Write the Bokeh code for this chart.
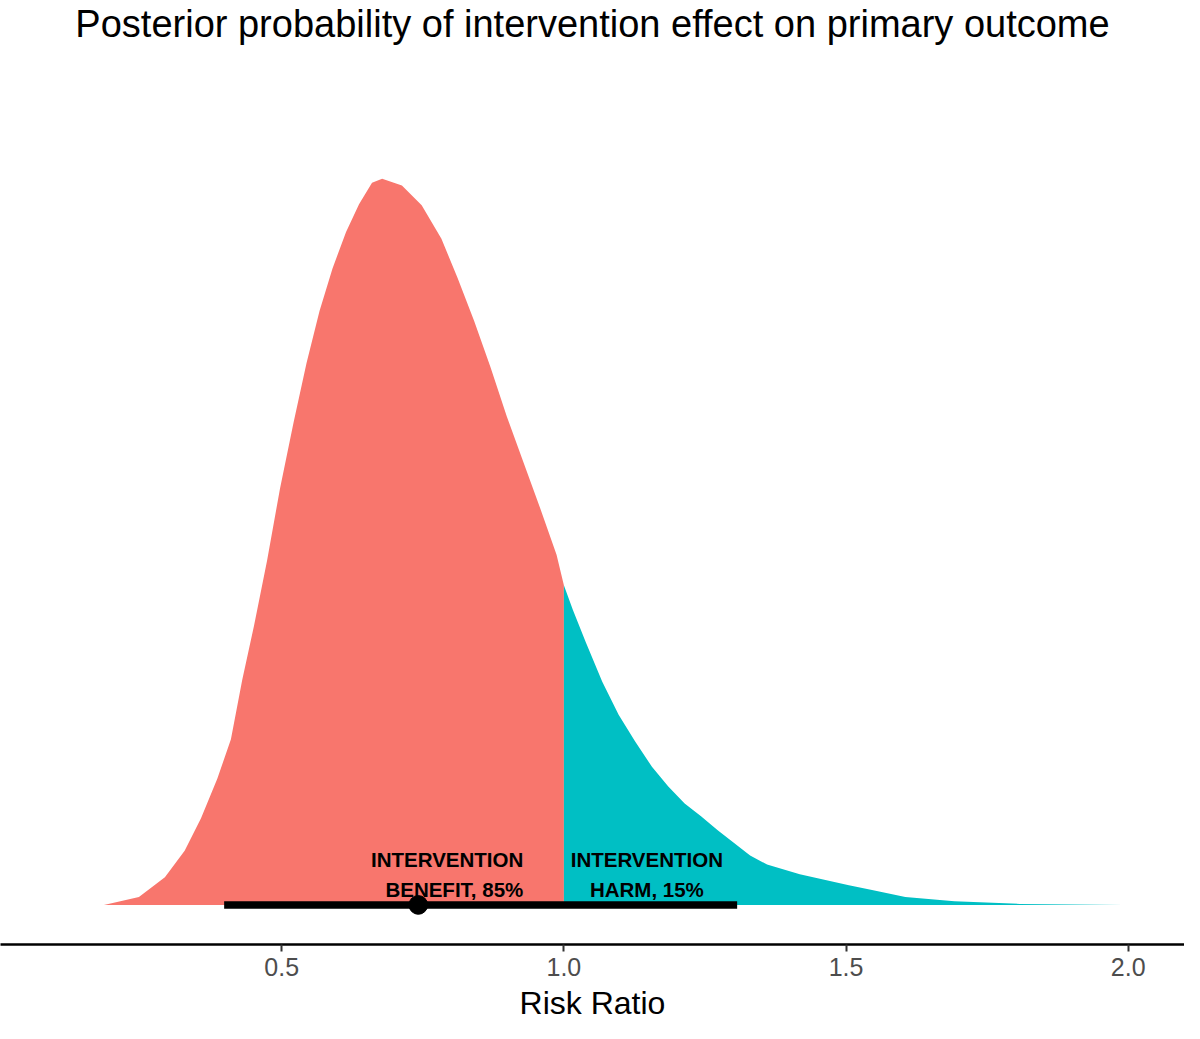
from bokeh.plotting import figure
from bokeh.models import Range1d, FixedTicker, NumeralTickFormatter
from bokeh.embed import file_html
from bokeh.resources import INLINE
from bokeh.core.properties import value

# posterior density of the risk ratio, split at RR = 1
benefit_rr = [0.185, 0.247, 0.293, 0.328, 0.357, 0.386, 0.410, 0.430, 0.451,
              0.474, 0.497, 0.521, 0.544, 0.567, 0.590, 0.614, 0.637, 0.660,
              0.678, 0.713, 0.748, 0.783, 0.812, 0.841, 0.870, 0.899, 0.928,
              0.958, 0.987, 1.0]
benefit_dens = [0.0, 0.023, 0.080, 0.157, 0.251, 0.366, 0.480, 0.651, 0.809,
                0.997, 1.206, 1.397, 1.569, 1.720, 1.843, 1.949, 2.029, 2.091,
                2.103, 2.083, 2.026, 1.929, 1.814, 1.691, 1.557, 1.414, 1.283,
                1.149, 1.014, 0.926]

harm_rr = [1.0, 1.016, 1.039, 1.068, 1.097, 1.126, 1.156, 1.185, 1.214, 1.243,
           1.272, 1.301, 1.330, 1.360, 1.418, 1.505, 1.546, 1.605, 1.692,
           1.808, 1.991]
harm_dens = [0.926, 0.854, 0.760, 0.646, 0.551, 0.474, 0.400, 0.343, 0.294,
             0.257, 0.217, 0.180, 0.143, 0.117, 0.089, 0.057, 0.043, 0.023,
             0.011, 0.003, 0.0]

# median and 95% credible interval
median_rr = 0.742
interval_lo = 0.398
interval_hi = 1.307

tick_values = [0.5, 1.0, 1.5, 2.0]
benefit_lines = ["INTERVENTION", "BENEFIT, 85%"]
harm_lines = ["INTERVENTION", "HARM, 15%"]

RED = "#F8766D"
TEAL = "#00BFC4"
FONT = "Liberation Sans"

p = figure(width=1184, height=1023,
           x_range=Range1d(0.0017, 2.0997), y_range=Range1d(-0.1146, 2.4916),
           title="Posterior probability of intervention effect on primary outcome",
           y_axis_location=None, toolbar_location=None, output_backend="svg",
           min_border_left=0, min_border_right=0, min_border_top=0, min_border_bottom=0)

p.title.align = "center"
p.title.text_font = FONT
p.title.text_font_style = "normal"
p.title.text_font_size = "38px"
p.title.text_color = "black"
p.title.standoff = 0

p.grid.visible = False
p.outline_line_color = None

# the two shaded parts of the posterior
p.varea(x=benefit_rr, y1=0, y2=benefit_dens, fill_color=RED)
p.varea(x=harm_rr, y1=0, y2=harm_dens, fill_color=TEAL)

# point + interval
p.segment(x0=[interval_lo], y0=[0], x1=[interval_hi], y1=[0],
          line_color="black", line_width=7.4, line_cap="butt")
p.scatter(x=[median_rr], y=[0], size=18.7, color="black")

# labels
label_y = [0.131, 0.046]
p.text(x=[0.928, 0.928], y=label_y, text=benefit_lines,
       text_align="right", text_baseline="alphabetic",
       text_font=value(FONT), text_font_style="bold", text_font_size="20.5px",
       text_color="black")
p.text(x=[1.147, 1.147], y=label_y, text=harm_lines,
       text_align="center", text_baseline="alphabetic",
       text_font=value(FONT), text_font_style="bold", text_font_size="20.5px",
       text_color="black")

ax = p.xaxis[0]
ax.ticker = FixedTicker(ticks=tick_values)
ax.formatter = NumeralTickFormatter(format="0.0")
ax.axis_label = "Risk Ratio"
ax.axis_label_text_font = FONT
ax.axis_label_text_font_style = "normal"
ax.axis_label_text_font_size = "32px"
ax.axis_label_text_color = "black"
ax.axis_label_standoff = 6
ax.major_label_text_font = FONT
ax.major_label_text_font_size = "25px"
ax.major_label_text_color = "#4D4D4D"
ax.major_label_standoff = 6
ax.axis_line_color = "black"
ax.axis_line_width = 2.5
ax.major_tick_line_color = "#333333"
ax.major_tick_line_width = 2
ax.major_tick_in = 0
ax.major_tick_out = 7
ax.minor_tick_line_color = None

open("out.html", "w").write(file_html(p, INLINE))
